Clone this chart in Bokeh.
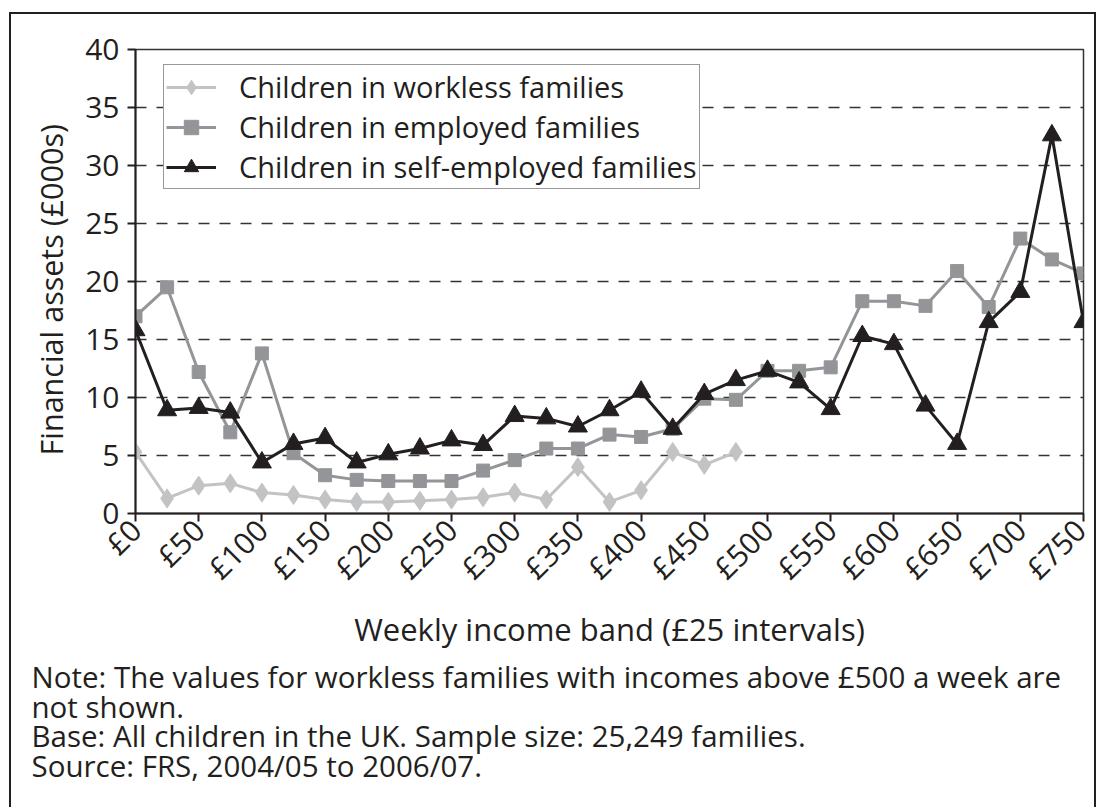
import math

from bokeh.embed import file_html
from bokeh.models import FixedTicker, Range1d, Title
from bokeh.plotting import figure
from bokeh.resources import INLINE

# Weekly income bands (lower bound of each £25 band)
income_bands = [0, 25, 50, 75, 100, 125, 150, 175, 200, 225, 250, 275, 300, 325,
                350, 375, 400, 425, 450, 475, 500, 525, 550, 575, 600, 625, 650,
                675, 700, 725, 750]

tick_values = [0, 50, 100, 150, 200, 250, 300, 350, 400, 450, 500, 550, 600,
               650, 700, 750]
tick_labels = ["£0", "£50", "£100", "£150", "£200", "£250", "£300", "£350",
               "£400", "£450", "£500", "£550", "£600", "£650", "£700", "£750"]

# Financial assets (£000s)
workless = [5.3, 1.3, 2.4, 2.6, 1.8, 1.6, 1.2, 1.0, 1.0, 1.1, 1.2, 1.4, 1.8,
            1.2, 4.0, 1.0, 2.0, 5.3, 4.2, 5.3]
employed = [17.0, 19.5, 12.2, 7.0, 13.8, 5.2, 3.3, 2.9, 2.8, 2.8, 2.8, 3.7, 4.6,
            5.6, 5.6, 6.8, 6.6, 7.3, 9.9, 9.8, 12.3, 12.3, 12.6, 18.3, 18.3,
            17.9, 20.9, 17.8, 23.7, 21.9, 20.7]
self_employed = [15.8, 8.9, 9.1, 8.7, 4.4, 6.0, 6.5, 4.4, 5.1, 5.6, 6.3, 5.9,
                 8.4, 8.2, 7.5, 8.9, 10.5, 7.3, 10.3, 11.5, 12.3, 11.3, 9.0,
                 15.3, 14.6, 9.3, 6.0, 16.5, 19.1, 32.6, 16.5]

series_names = ["Children in workless families",
                "Children in employed families",
                "Children in self-employed families"]

note_lines = [
    "Note: The values for workless families with incomes above £500 a week are",
    "not shown.",
    "Base: All children in the UK. Sample size: 25,249 families.",
    "Source: FRS, 2004/05 to 2006/07.",
]

FONT = "Open Sans"
TEXT = "#231f20"

p = figure(frame_width=948, frame_height=464,
           min_border_left=124, min_border_right=11,
           min_border_top=35, min_border_bottom=294,
           x_range=Range1d(0, 750), y_range=Range1d(0, 40),
           output_backend="svg", toolbar_location=None)

# open box (left, top, right edges) around the whole figure
edge = "#231f20"
p.styles = {
    "margin-left": "11px", "margin-top": "14px",
    "box-shadow": (f"-2px 0 0 0 {edge}, 2px 0 0 0 {edge}, 0 -2px 0 0 {edge}, "
                   f"-2px -2px 0 0 {edge}, 2px -2px 0 0 {edge}"),
}

p.background_fill_color = "white"
p.border_fill_color = "white"
p.outline_line_color = "#333333"
p.outline_line_width = 1.5

# axes
p.xaxis.ticker = FixedTicker(ticks=tick_values)
p.xaxis.major_label_overrides = {v: s for v, s in zip(tick_values, tick_labels)}
p.xaxis.major_label_orientation = math.pi / 4
p.xaxis.minor_tick_line_color = None
p.yaxis.ticker = FixedTicker(ticks=list(range(0, 41, 5)))
p.yaxis.minor_tick_line_color = None

for ax in (p.xaxis[0], p.yaxis[0]):
    ax.axis_line_color = TEXT
    ax.axis_line_width = 2
    ax.major_tick_line_color = TEXT
    ax.major_tick_line_width = 2
    ax.major_tick_in = 0
    ax.major_tick_out = 8
    ax.major_label_text_font = FONT
    ax.major_label_text_font_size = "30px"
    ax.major_label_text_color = TEXT
    ax.axis_label_text_font = FONT
    ax.axis_label_text_font_style = "normal"
    ax.axis_label_text_color = TEXT

p.xaxis.axis_label = "Weekly income band (£25 intervals)"
p.xaxis.axis_label_text_font_size = "31px"
p.xaxis.major_label_standoff = 3
p.xaxis.axis_label_standoff = 3
p.yaxis.major_label_standoff = 8

# y-axis title, starting a little above the frame bottom
p.add_layout(Title(text="Financial assets (£000s)", align="left", offset=58,
                   text_font=FONT, text_font_size="30.5px", text_font_style="normal",
                   text_color=TEXT, standoff=21), "left")

# dashed horizontal gridlines
p.xgrid.grid_line_color = None
p.ygrid.grid_line_color = "#333333"
p.ygrid.grid_line_width = 1.6
p.ygrid.grid_line_dash = "11 10"

# series
styles = [
    (income_bands[:len(workless)], workless, "#c2c3c5", "diamond", 19),
    (income_bands, employed, "#939598", "square", 13),
    (income_bands, self_employed, "#231f20", "triangle", 19),
]
for (xs, ys, color, marker, size), name in zip(styles, series_names):
    p.line(xs, ys, line_color=color, line_width=3, legend_label=name)
    p.scatter(xs, ys, marker=marker, size=size,
              fill_color=color, line_color=color, legend_label=name)

leg = p.legend[0]
leg.location = (28, 324)
leg.label_text_font = FONT
leg.label_text_font_size = "29px"
leg.label_text_color = TEXT
leg.border_line_color = "#333333"
leg.border_line_width = 1.5
leg.background_fill_alpha = 1.0
leg.glyph_width = 50
leg.glyph_height = 36
leg.label_height = 36
leg.label_standoff = 23
leg.spacing = 1
leg.padding = 2
leg.margin = 0

# notes under the chart
p.add_layout(Title(text="\n".join(note_lines), align="left", offset=-104,
                   text_font=FONT, text_font_size="29.5px", text_font_style="normal",
                   text_color=TEXT, text_line_height=0.72, standoff=1), "below")

open("out.html", "w").write(file_html(p, INLINE))
